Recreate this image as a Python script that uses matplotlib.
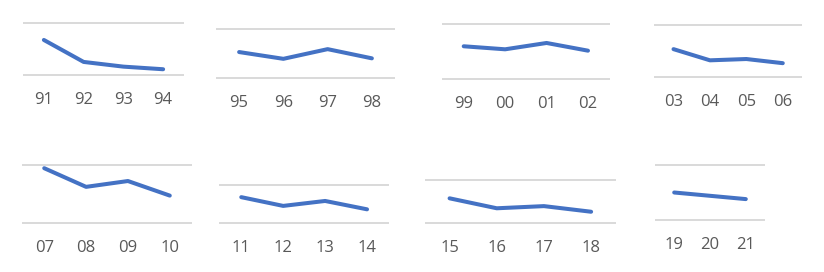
import matplotlib.pyplot as plt

# small multiples: 2-digit year labels and values (fraction of each panel's grid range)
labels_1 = ['91', '92', '93', '94']
values_1 = [0.67, 0.25, 0.16, 0.11]
labels_2 = ['95', '96', '97', '98']
values_2 = [0.53, 0.39, 0.59, 0.40]
labels_3 = ['99', '00', '01', '02']
values_3 = [0.595, 0.54, 0.655, 0.515]
labels_4 = ['03', '04', '05', '06']
values_4 = [0.53, 0.315, 0.34, 0.26]
labels_5 = ['07', '08', '09', '10']
values_5 = [0.94, 0.62, 0.72, 0.47]
labels_6 = ['11', '12', '13', '14']
values_6 = [0.68, 0.45, 0.58, 0.36]
labels_7 = ['15', '16', '17', '18']
values_7 = [0.57, 0.34, 0.39, 0.26]
labels_8 = ['19', '20', '21']
values_8 = [0.50, 0.44, 0.38]

W, H = 824, 272
LINE_COLOR = '#4472C4'
GRID_COLOR = '#D9D9D9'
TEXT_COLOR = '#595959'

# panel boxes in pixels: left, top gridline, right, bottom gridline
boxes = [
    (24, 22.7, 183, 75),
    (217, 29.3, 394, 77.7),
    (443, 24, 608.7, 79),
    (655.3, 24.7, 801, 76.7),
    (23.3, 164.7, 190.7, 223),
    (220.3, 185, 388, 223),
    (426, 179.7, 614.7, 223),
    (656.3, 165, 763.7, 220),
]
panels = [
    (labels_1, values_1), (labels_2, values_2), (labels_3, values_3),
    (labels_4, values_4), (labels_5, values_5), (labels_6, values_6),
    (labels_7, values_7), (labels_8, values_8),
]

plt.rcParams['font.family'] = ['Open Sans', 'DejaVu Sans']

fig = plt.figure(figsize=(W / 100, H / 100), dpi=100)

for (x0, y0, x1, y1), (labels, values) in zip(boxes, panels):
    ax = fig.add_axes([x0 / W, 1 - y1 / H, (x1 - x0) / W, (y1 - y0) / H])
    n = len(values)
    ax.set_xlim(-0.5, n - 0.5)
    ax.set_ylim(0, 1)

    # two gridlines, top and bottom
    for g in (0, 1):
        ax.axhline(g, color=GRID_COLOR, lw=1.4, clip_on=False, zorder=1)

    ax.plot(range(n), values, color=LINE_COLOR, lw=2.9,
            solid_capstyle='round', solid_joinstyle='round', zorder=3)

    ax.set_xticks(range(n))
    ax.set_xticklabels(labels, fontsize=12, color=TEXT_COLOR)
    ax.tick_params(axis='x', length=0, pad=12.5)
    ax.set_yticks([])
    for s in ax.spines.values():
        s.set_visible(False)
    ax.patch.set_alpha(0)

fig.savefig('out.png', dpi=100)
